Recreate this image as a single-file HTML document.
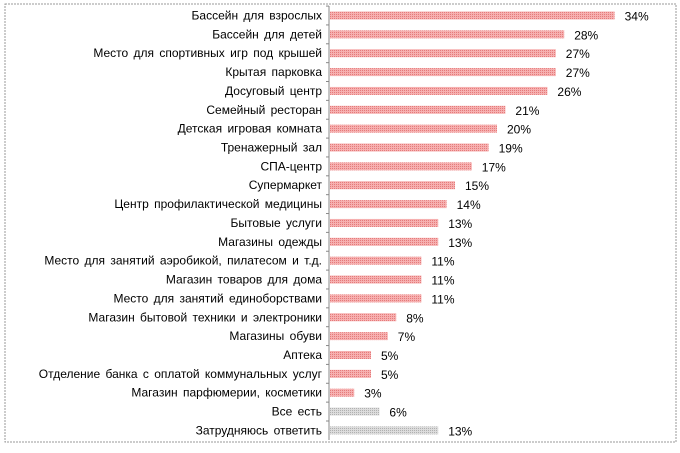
<!DOCTYPE html>
<html><head><meta charset="utf-8"><style>
body{margin:0;background:#fff;}
svg text{font-family:"Liberation Sans",Arial,sans-serif;font-size:12px;fill:#000;}
</style></head><body>
<svg id="chart" width="680" height="448">
<defs>
<pattern id="pr" width="2" height="2" patternUnits="userSpaceOnUse"><rect width="2" height="2" fill="#f6b0b0"/><rect width="1" height="1" fill="#e57a7a"/></pattern>
<pattern id="pg" width="2" height="2" patternUnits="userSpaceOnUse"><rect width="2" height="2" fill="#dcdcdc"/><rect width="1" height="1" fill="#b0b0b0"/></pattern>
</defs>
<rect x="5" y="4" width="671" height="438" fill="none" stroke="#999" stroke-dasharray="2,1"/>
<g id="plot"></g>
</svg>
<script>
const categories=["Бассейн для взрослых","Бассейн для детей","Место для спортивных игр под крышей","Крытая парковка","Досуговый центр","Семейный ресторан","Детская игровая комната","Тренажерный зал","СПА-центр","Супермаркет","Центр профилактической медицины","Бытовые услуги","Магазины одежды","Место для занятий аэробикой, пилатесом и т.д.","Магазин товаров для дома","Место для занятий единоборствами","Магазин бытовой техники и электроники","Магазины обуви","Аптека","Отделение банка с оплатой коммунальных услуг","Магазин парфюмерии, косметики","Все есть","Затрудняюсь ответить"];
const values=[34,28,27,27,26,21,20,19,17,15,14,13,13,11,11,11,8,7,5,5,3,6,13];
const labels=["34%","28%","27%","27%","26%","21%","20%","19%","17%","15%","14%","13%","13%","11%","11%","11%","8%","7%","5%","5%","3%","6%","13%"];
const grey=[false,false,false,false,false,false,false,false,false,false,false,false,false,false,false,false,false,false,false,false,false,true,true];
const ns="http://www.w3.org/2000/svg";
const g=document.getElementById('plot');
const x0=329,scale=8.4,y0=15.5,step=18.86,bh=8;
const xs=v=>x0+v*scale;
const ys=i=>y0+i*step;
function mk(t,a){const e=document.createElementNS(ns,t);for(const k in a)e.setAttribute(k,a[k]);g.appendChild(e);return e;}
const ax=mk('line',{x1:x0,y1:6,x2:x0,y2:440,stroke:'#888'});


categories.forEach((c,i)=>{
  const y=ys(i);
  const tk=mk('line',{x1:x0-3,y1:y-step/2,x2:x0,y2:y-step/2,stroke:'#888'});
  
  
  const b=mk('rect',{x:x0+1,y:y-bh/2,width:xs(values[i])-x0-1,height:bh,fill:grey[i]?'url(#pg)':'url(#pr)'});
  
  
  const l=mk('text',{x:322,y:y+4,'text-anchor':'end','word-spacing':'2'});l.textContent=c;
  
  
  const v=mk('text',{x:xs(values[i])+10,y:y+5});v.textContent=labels[i];
  
  
});
</script>
</body></html>
